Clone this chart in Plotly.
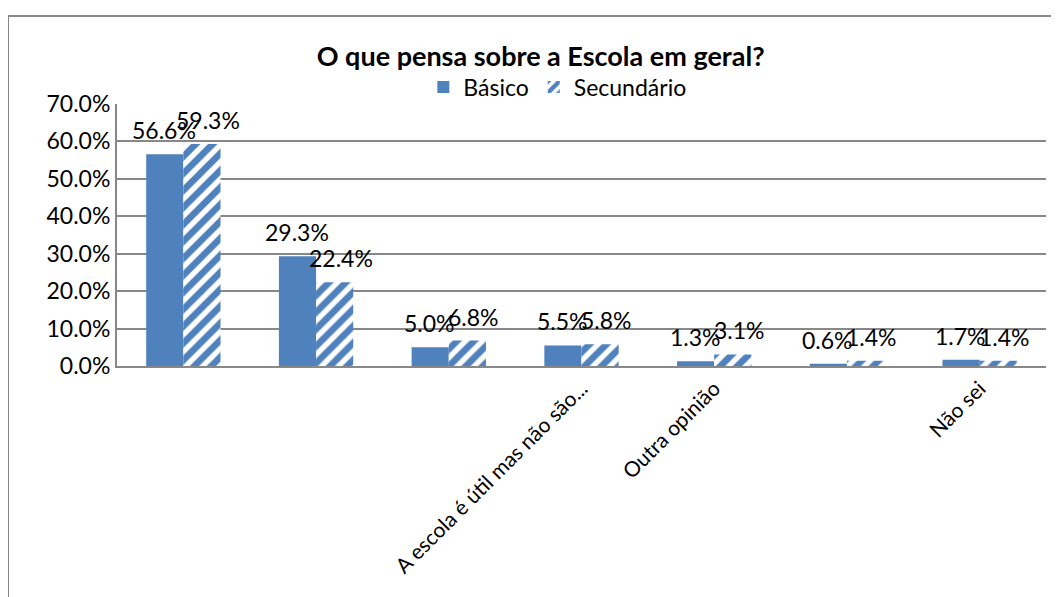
import plotly.graph_objects as go

# categories (only some names are legible on the original axis)
cat_pos = [0, 1, 2, 3, 4, 5, 6]
tick_pos = [3, 4, 6]
tick_labels = ["A escola é útil mas não são...", "Outra opinião", "Não sei"]

basico = [0.566, 0.293, 0.050, 0.055, 0.013, 0.006, 0.017]
secundario = [0.593, 0.224, 0.068, 0.058, 0.031, 0.014, 0.014]

blue = "#4f81bd"
font = "Lato, Calibri, sans-serif"
fs = 23

fig = go.Figure()
fig.add_trace(go.Bar(
    x=cat_pos, y=basico, name="Básico",
    marker=dict(color=blue, line_width=0),
))
fig.add_trace(go.Bar(
    x=cat_pos, y=secundario, name="Secundário",
    marker=dict(color="white", line_width=0,
                pattern=dict(shape="/", fgcolor=blue, bgcolor="white",
                             fgopacity=1, size=12, solidity=0.55)),
))

# data labels, placed above each bar like Excel does
for series, dx in ((basico, -19), (secundario, 25)):
    for x, v in zip(cat_pos, series):
        fig.add_annotation(x=x, y=v, text=f"{v:.1%}", showarrow=False,
                           xshift=dx, yshift=24, yanchor="middle",
                           font=dict(size=fs, color="black"))

# outer chart frame
fig.add_shape(type="rect", xref="paper", yref="paper",
              x0=-0.1173, x1=1.0129, y0=-0.95, y1=1.336,
              line=dict(color="#888888", width=2), layer="below")

# the page body adds an 8px offset, so margins are shifted by that
fig.update_layout(
    width=1059, height=597,
    margin=dict(l=109, r=21, t=96, b=239, autoexpand=False),
    paper_bgcolor="white", plot_bgcolor="white",
    font=dict(family=font, size=fs, color="black"),
    title=dict(text="<b>O que pensa sobre a Escola em geral?</b>",
               x=0.503, xanchor="center", y=1 - 49 / 597, yanchor="middle",
               font=dict(size=27, family=font)),
    legend=dict(orientation="h", x=0.474, xanchor="center", y=1.065,
                yanchor="middle", font=dict(size=23), itemwidth=30,
                traceorder="normal"),
    barmode="group", bargap=0.44, bargroupgap=0,
    showlegend=True,
)
fig.update_xaxes(range=[-0.5, 6.5], tickmode="array", tickvals=tick_pos,
                 ticktext=tick_labels, tickangle=-45, showgrid=False,
                 showline=True, linecolor="#888888", linewidth=2,
                 ticks="", tickfont=dict(size=21), automargin=False)
fig.update_yaxes(range=[0, 0.7], dtick=0.1, tickformat=".1%",
                 showgrid=True, gridcolor="#888888", gridwidth=2,
                 showline=True, linecolor="#888888", linewidth=2,
                 ticks="", tickfont=dict(size=23), zeroline=False,
                 automargin=False)

fig.write_html("out.html")
